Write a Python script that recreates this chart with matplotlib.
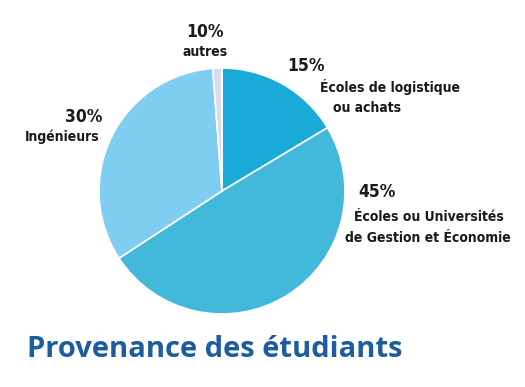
import matplotlib
matplotlib.use('Agg')
import matplotlib.pyplot as plt

# wedge shares as drawn in the picture (labels carry the printed figures)
categories = ["Écoles de logistique\nou achats", "Écoles ou Universités\nde Gestion et Économie",
              "Ingénieurs", "autres"]
shares = [16.4, 49.4, 33.0, 1.2]
printed_pct = ["15%", "45%", "30%", "10%"]
colors = ["#19aad8", "#42b8da", "#7fcef2", "#d9dcee"]

W, H = 525, 387
fig = plt.figure(figsize=(W / 100, H / 100), dpi=100)

# pie centre and radius in pixels
cx, cy, r = 222, 191, 123
ax = fig.add_axes([(cx - r) / W, (H - cy - r) / H, 2 * r / W, 2 * r / H])
ax.pie(shares, colors=colors, startangle=90, counterclock=False,
       wedgeprops=dict(edgecolor="white", linewidth=1.2))
ax.set_xlim(-1, 1)
ax.set_ylim(-1, 1)


def put(x, y, s, size, ha="left"):
    fig.text(x / W, 1 - y / H, s, fontsize=size, fontweight="bold", family="DejaVu Sans",
             fontstretch="condensed", ha=ha, va="center", color="#1a1a1a")


# 10% autres
put(205, 32, printed_pct[3], 12.5, "center")
put(205, 52, categories[3], 10, "center")
# 15% logistique
put(287, 66, printed_pct[0], 12.5)
line1, line2 = categories[0].split("\n")
put(320, 87, line1, 10)
put(333, 108, line2, 10)
# 45% gestion
put(358, 192, printed_pct[1], 12.5)
line1, line2 = categories[1].split("\n")
put(429, 217, line1, 10, "center")
put(428, 238, line2, 10, "center")
# 30% ingénieurs
put(102, 117, printed_pct[2], 12.5, "right")
put(100, 137, categories[2], 10, "right")

fig.text(27 / W, 1 - 357 / H, "Provenance des étudiants", fontsize=21, fontweight="bold",
         family=["Open Sans", "DejaVu Sans"], color="#1d5c9e", ha="left", va="baseline")

fig.savefig("out.png", dpi=100)
